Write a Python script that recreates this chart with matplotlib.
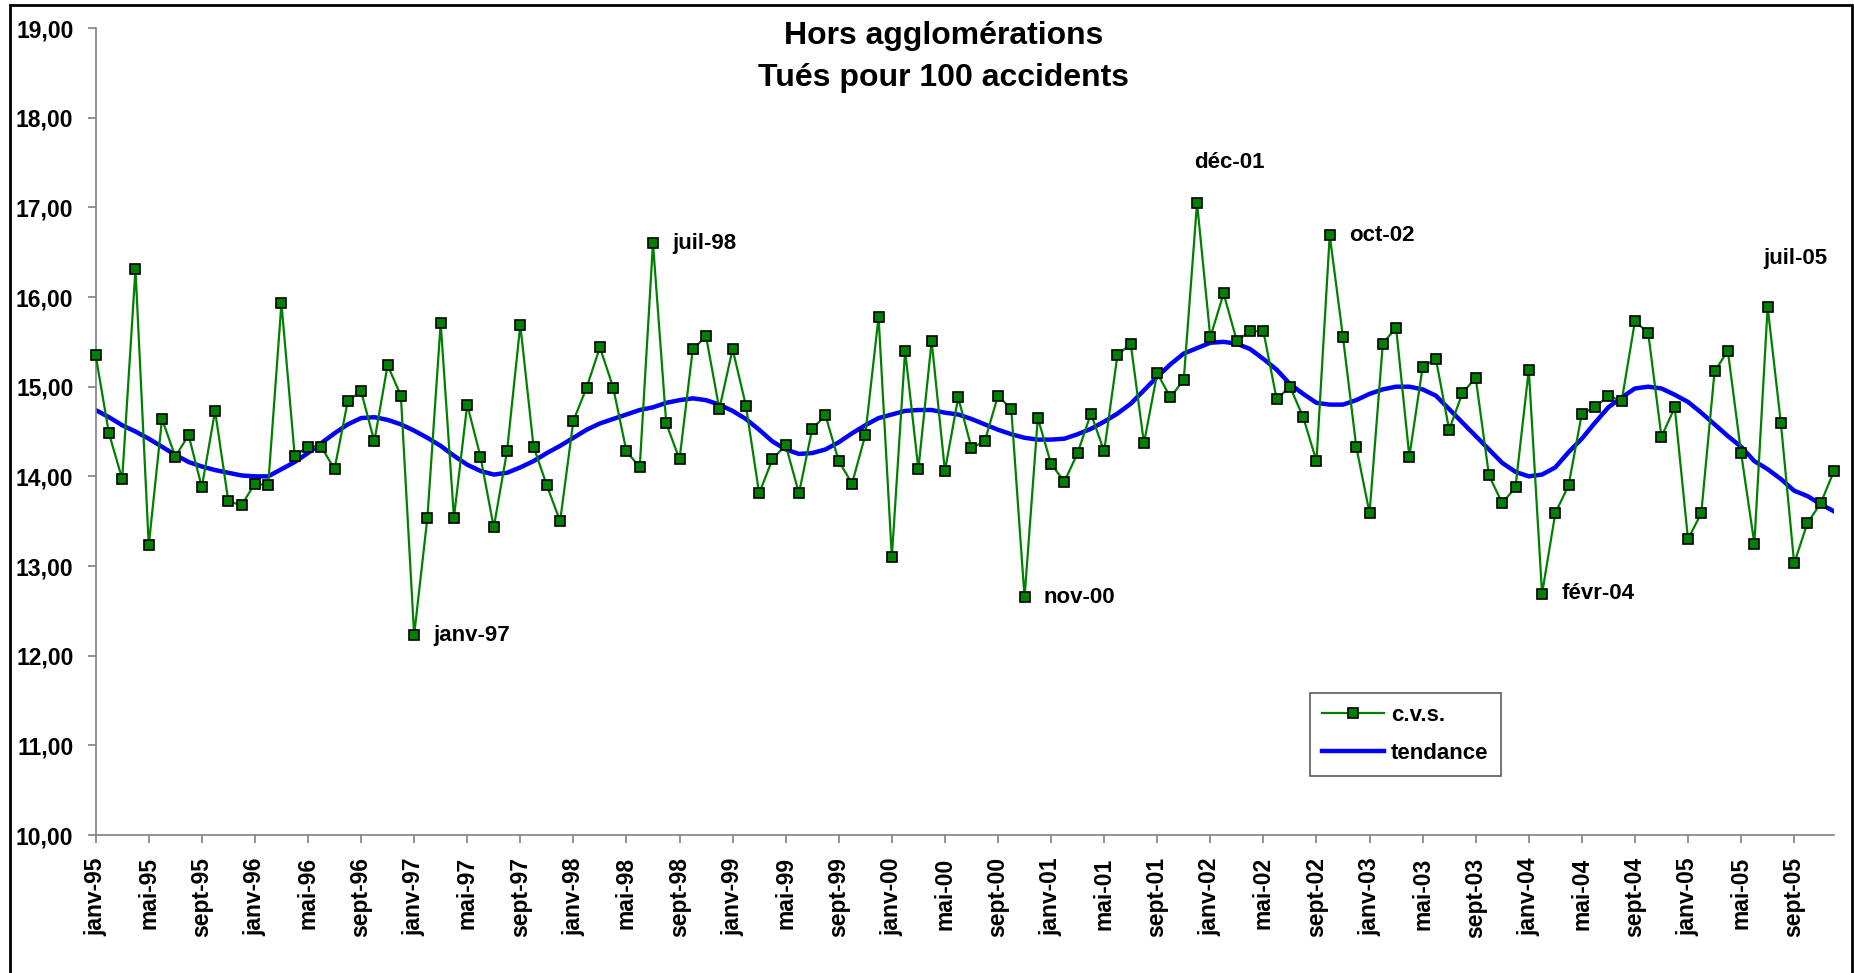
import matplotlib
matplotlib.use("Agg")
import matplotlib.pyplot as plt
from matplotlib.patches import Rectangle
from matplotlib.ticker import FuncFormatter

plt.rcParams['font.family'] = ['Liberation Sans', 'DejaVu Sans']
plt.rcParams['font.weight'] = 'bold'

# Mois (janv-95 .. déc-05)
mois = ["janv", "févr", "mars", "avr", "mai", "juin",
        "juil", "août", "sept", "oct", "nov", "déc"]
annees = ["95", "96", "97", "98", "99", "00", "01", "02", "03", "04", "05"]

# Tués pour 100 accidents, série corrigée des variations saisonnières
cvs = [15.35, 14.48, 13.97, 16.31, 13.23, 14.64, 14.22, 14.46, 13.88, 14.73, 13.72, 13.68,
       13.92, 13.90, 15.93, 14.23, 14.33, 14.33, 14.08, 14.84, 14.95, 14.39, 15.24, 14.90,
       12.23, 13.54, 15.71, 13.54, 14.80, 14.22, 13.43, 14.28, 15.69, 14.33, 13.90, 13.50,
       14.62, 14.99, 15.44, 14.99, 14.28, 14.10, 16.60, 14.59, 14.19, 15.42, 15.56, 14.75,
       15.42, 14.79, 13.81, 14.19, 14.35, 13.81, 14.53, 14.68, 14.17, 13.92, 14.46, 15.78,
       13.10, 15.40, 14.08, 15.51, 14.06, 14.88, 14.32, 14.39, 14.90, 14.75, 12.65, 14.65,
       14.14, 13.94, 14.26, 14.70, 14.28, 15.35, 15.48, 14.37, 15.15, 14.88, 15.08, 17.05,
       15.55, 16.04, 15.51, 15.62, 15.62, 14.86, 15.00, 14.66, 14.17, 16.69, 15.55, 14.33,
       13.59, 15.48, 15.66, 14.22, 15.22, 15.31, 14.52, 14.93, 15.10, 14.01, 13.70, 13.88,
       15.19, 12.69, 13.59, 13.90, 14.70, 14.77, 14.90, 14.84, 15.73, 15.60, 14.44, 14.77,
       13.30, 13.59, 15.17, 15.40, 14.26, 13.25, 15.89, 14.59, 13.03, 13.48, 13.70, 14.06]

tendance = [14.74, 14.66, 14.57, 14.50, 14.42, 14.33, 14.24, 14.16, 14.11, 14.07, 14.04, 14.01,
            14.00, 14.00, 14.08, 14.16, 14.26, 14.37, 14.48, 14.58, 14.65, 14.66, 14.63, 14.58,
            14.51, 14.43, 14.34, 14.23, 14.13, 14.06, 14.02, 14.04, 14.10, 14.17, 14.26, 14.34,
            14.43, 14.52, 14.59, 14.64, 14.69, 14.74, 14.77, 14.82, 14.85, 14.87, 14.85, 14.80,
            14.73, 14.64, 14.52, 14.39, 14.30, 14.25, 14.26, 14.30, 14.38, 14.48, 14.57, 14.65,
            14.69, 14.73, 14.74, 14.74, 14.71, 14.69, 14.64, 14.58, 14.52, 14.47, 14.43, 14.41,
            14.41, 14.42, 14.47, 14.53, 14.61, 14.70, 14.81, 14.96, 15.11, 15.25, 15.37, 15.43,
            15.49, 15.50, 15.48, 15.42, 15.31, 15.19, 15.03, 14.92, 14.82, 14.80, 14.80, 14.85,
            14.92, 14.97, 15.00, 15.00, 14.97, 14.90, 14.75, 14.60, 14.45, 14.30, 14.15, 14.05,
            14.00, 14.02, 14.10, 14.27, 14.42, 14.60, 14.77, 14.88, 14.98, 15.00, 14.98, 14.91,
            14.83, 14.71, 14.58, 14.45, 14.33, 14.17, 14.08, 13.97, 13.84, 13.78, 13.69, 13.61]

labels_mois = [m + "-" + a for a in annees for m in mois]
x = list(range(len(cvs)))

# points remarquables : (indice, décalage du texte en points)
remarques = [(24, (14, 0)), (42, (14, 0)), (70, (14, 0)), (83, (-2, 29)),
             (93, (14, 0)), (109, (14, 0)), (126, (-3, 35))]

fig = plt.figure(figsize=(18.54, 9.73), dpi=100)
ax = fig.add_axes([0.0516, 0.1418, 0.9376, 0.8294])

ax.plot(x, cvs, color='#008000', lw=1.6, marker='s', ms=7.5,
        mfc='#008000', mec='black', mew=1.2, label='c.v.s.', clip_on=False, zorder=3)
ax.plot(x, tendance, color='#0000FF', lw=3.2, label='tendance', zorder=2)

for i, off in remarques:
    ax.annotate(labels_mois[i], (x[i], cvs[i]), xytext=off, textcoords='offset points',
                ha='left', va='center', fontsize=16, fontweight='bold')

ax.set_xlim(0, len(cvs) - 1)
ax.set_ylim(10, 19)
ax.set_yticks(range(10, 20))
ax.yaxis.set_major_formatter(FuncFormatter(lambda v, p: f"{v:.2f}".replace('.', ',')))
ticks = x[::4]
ax.set_xticks(ticks)
ax.set_xticklabels([labels_mois[i] for i in ticks], rotation=90)

for s in ['top', 'right']:
    ax.spines[s].set_visible(False)
for s in ['left', 'bottom']:
    ax.spines[s].set_color('#808080')
    ax.spines[s].set_linewidth(1.2)
ax.tick_params(axis='both', direction='out', length=6, width=1.2, color='#808080',
               labelsize=16.5, pad=10)
for t in ax.get_xticklabels() + ax.get_yticklabels():
    t.set_fontweight('bold')

fig.text(0.509, 0.978, "Hors agglomérations\nTués pour 100 accidents",
         ha='center', va='top', fontsize=23, fontweight='bold', linespacing=1.5)

leg = ax.legend(loc='upper left', bbox_to_anchor=(0.6985, 0.176), frameon=True,
                fancybox=False, prop={'size': 16, 'weight': 'bold'}, handlelength=2.8,
                handletextpad=0.3, borderpad=0.55, labelspacing=0.75, borderaxespad=0)
leg.get_frame().set_edgecolor('#333333')
leg.get_frame().set_linewidth(1.2)

# cadre de la zone de graphique
fig.add_artist(Rectangle((10 / 1854, -0.02), 1842 / 1854, 1 - 5 / 973 + 0.02,
                         transform=fig.transFigure, fill=False, ec='black', lw=2))

fig.savefig('out.png', dpi=100)
